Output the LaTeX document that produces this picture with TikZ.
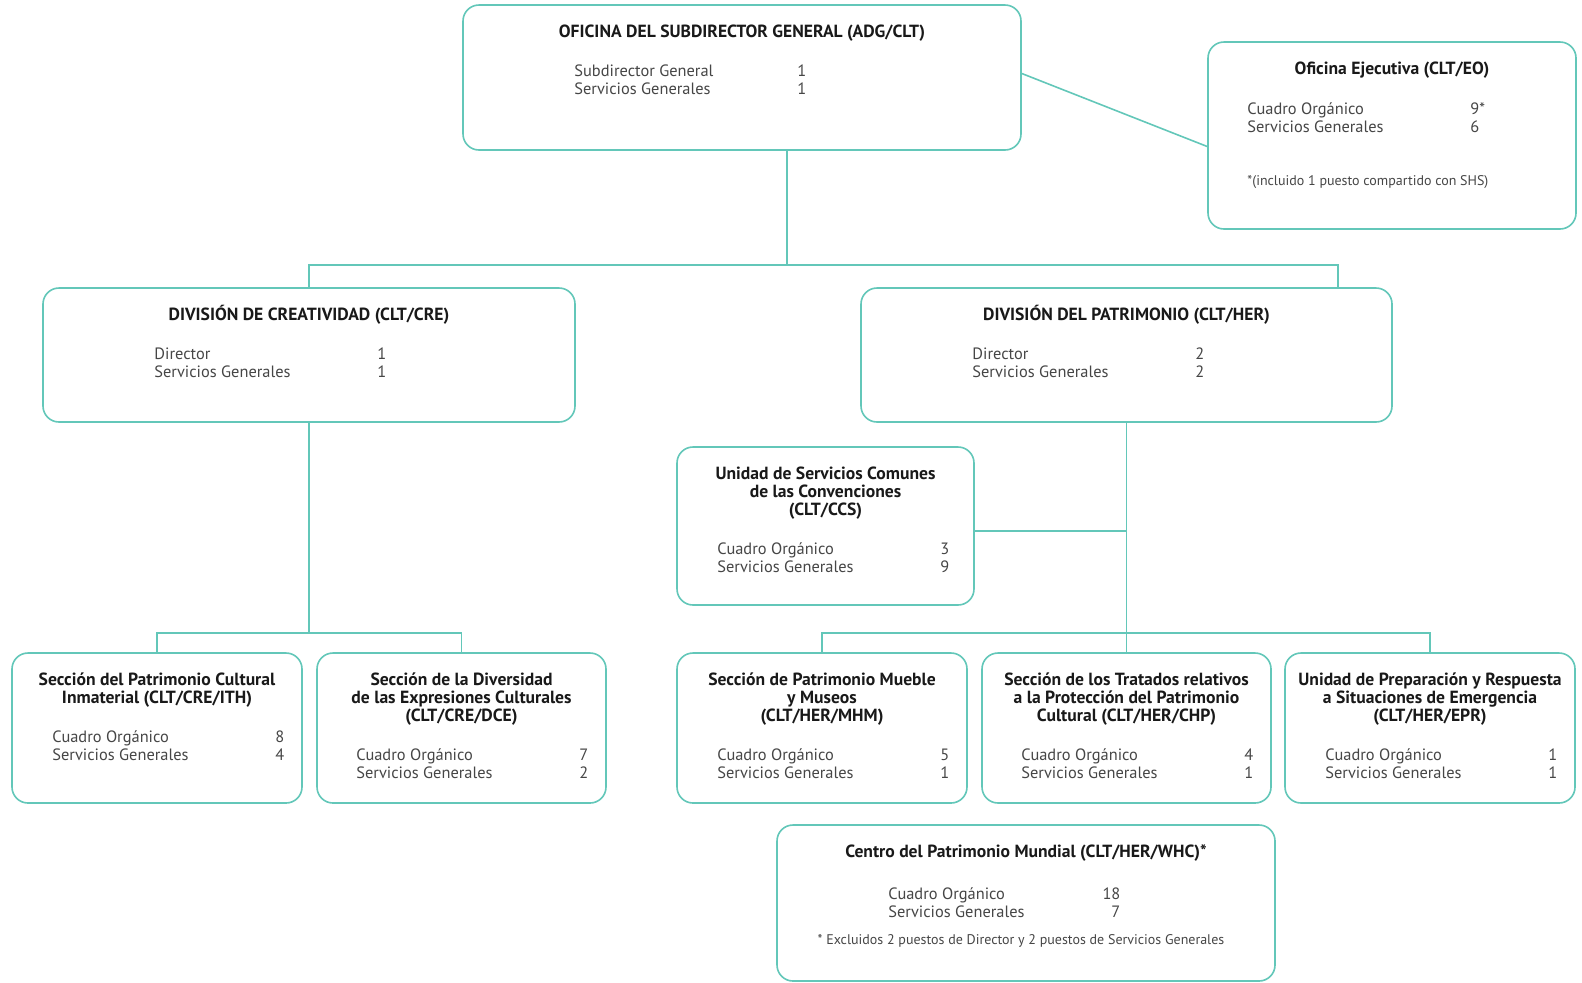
\documentclass[tikz,border=0pt]{standalone}
\usepackage{fontspec}
\setmainfont{PT Sans}
\usetikzlibrary{positioning}
\definecolor{orgline}{RGB}{99,199,185}
\definecolor{orgtext}{RGB}{70,70,70}
\newcommand\tstrut{\rule{0pt}{8pt}}
\newcommand\staffrow[2]{\makebox[116pt][l]{#1\hfill#2}}

\begin{document}
\begin{tikzpicture}[x=0.5pt,y=-0.5pt,
  unit/.style={draw=orgline,line width=0.8pt,rounded corners=8pt,fill=white,inner sep=0pt},
  head/.style={font=\fontsize{8.8}{8.9}\selectfont\bfseries,align=center,inner sep=0pt,text=black!90},
  staff/.style={font=\fontsize{8.2}{9}\selectfont,align=left,inner sep=0pt,anchor=north west,text=orgtext},
  note/.style={font=\fontsize{7}{9}\selectfont,inner sep=0pt,text=orgtext},
  link/.style={draw=orgline,line width=0.8pt}]
\useasboundingbox (0,0) rectangle (1582,982);
% top level
\node[unit,minimum width=279pt,minimum height=72.5pt] (top) at (742,77.5) {};
\node[head,below=8.5pt of top.north] (topT) {\tstrut OFICINA DEL SUBDIRECTOR GENERAL (ADG/CLT)};
\node[staff] (topS) at (574,60) {\tstrut\staffrow{Subdirector General}{1}\\\staffrow{Servicios Generales}{1}};
\node[unit,minimum width=184pt,minimum height=93.5pt] (eo) at (1392,135.5) {};
\node[head,below=8.5pt of eo.north] (eoT) {\tstrut Oficina Ejecutiva (CLT/EO)};
\node[staff] (eoS) at (1247,98) {\tstrut\staffrow{Cuadro Orgánico}{9\rlap{*}}\\\staffrow{Servicios Generales}{6}};
\node[note,anchor=north west] (eoN) at (1247,169) {\tstrut *(incluido 1 puesto compartido con SHS)};
% divisions
\node[unit,minimum width=266pt,minimum height=67pt] (cre) at (309,355) {};
\node[head,below=8.5pt of cre.north] (creT) {\tstrut DIVISIÓN DE CREATIVIDAD (CLT/CRE)};
\node[staff] (creS) at (154,343) {\tstrut\staffrow{Director}{1}\\\staffrow{Servicios Generales}{1}};
\node[unit,minimum width=265.5pt,minimum height=67pt] (her) at (1126.5,355) {};
\node[head,below=8.5pt of her.north] (herT) {\tstrut DIVISIÓN DEL PATRIMONIO (CLT/HER)};
\node[staff] (herS) at (972,343) {\tstrut\staffrow{Director}{2}\\\staffrow{Servicios Generales}{2}};
\node[unit,minimum width=148.5pt,minimum height=79pt] (ccs) at (825.5,526) {};
\node[head,below=8.5pt of ccs.north] (ccsT) {\tstrut Unidad de Servicios Comunes\\de las Convenciones\\(CLT/CCS)};
\node[staff] (ccsS) at (717,538) {\tstrut\staffrow{Cuadro Orgánico}{3}\\\staffrow{Servicios Generales}{9}};
% sections
\node[unit,minimum width=145pt,minimum height=75pt] (ith) at (157,728) {};
\node[head,below=8.5pt of ith.north] (ithT) {\tstrut Sección del Patrimonio Cultural\\Inmaterial (CLT/CRE/ITH)};
\node[staff] (ithS) at (52,726) {\tstrut\staffrow{Cuadro Orgánico}{8}\\\staffrow{Servicios Generales}{4}};
\node[unit,minimum width=144.5pt,minimum height=75pt] (dce) at (461.5,728) {};
\node[head,below=8.5pt of dce.north] (dceT) {\tstrut Sección de la Diversidad\\de las Expresiones Culturales\\(CLT/CRE/DCE)};
\node[staff] (dceS) at (356,744) {\tstrut\staffrow{Cuadro Orgánico}{7}\\\staffrow{Servicios Generales}{2}};
\node[unit,minimum width=145pt,minimum height=75pt] (mhm) at (822,728) {};
\node[head,below=8.5pt of mhm.north] (mhmT) {\tstrut Sección de Patrimonio Mueble\\y Museos\\(CLT/HER/MHM)};
\node[staff] (mhmS) at (717,744) {\tstrut\staffrow{Cuadro Orgánico}{5}\\\staffrow{Servicios Generales}{1}};
\node[unit,minimum width=144.5pt,minimum height=75pt] (chp) at (1126.5,728) {};
\node[head,below=8.5pt of chp.north] (chpT) {\tstrut Sección de los Tratados relativos\\a la Protección del Patrimonio\\Cultural (CLT/HER/CHP)};
\node[staff] (chpS) at (1021,744) {\tstrut\staffrow{Cuadro Orgánico}{4}\\\staffrow{Servicios Generales}{1}};
\node[unit,minimum width=145pt,minimum height=75pt] (epr) at (1430,728) {};
\node[head,below=8.5pt of epr.north] (eprT) {\tstrut Unidad de Preparación y Respuesta\\a Situaciones de Emergencia\\(CLT/HER/EPR)};
\node[staff] (eprS) at (1325,744) {\tstrut\staffrow{Cuadro Orgánico}{1}\\\staffrow{Servicios Generales}{1}};
\node[unit,minimum width=249pt,minimum height=78pt] (whc) at (1026,903) {};
\node[head,below=8.5pt of whc.north] (whcT) {\tstrut Centro del Patrimonio Mundial (CLT/HER/WHC)*};
\node[staff] (whcS) at (888,883) {\tstrut\staffrow{Cuadro Orgánico}{18}\\\staffrow{Servicios Generales}{7}};
\node[note,anchor=north] (whcN) at (1021,928) {\tstrut * Excluidos 2 puestos de Director y 2 puestos de Servicios Generales};
% connectors
\coordinate (topdrop) at (787,150);
\coordinate (hubL) at (309,265);
\coordinate (hubR) at (1338,265);
\draw[link] (topdrop) -- (topdrop |- hubL);
\draw[link] (cre.north) -- (hubL) -- (hubR) -- (hubR |- her.north);
\draw[link] ([yshift=2pt]top.east) -- ([yshift=-5.5pt]eo.west);
\coordinate (creBus) at (309,633);
\draw[link] (cre.south) -- (creBus);
\draw[link] (ith.north) |- (creBus) -| (dce.north);
\coordinate (herBus) at (1126.5,633);
\draw[link] (her.south) -- (chp.north);
\draw[link] (mhm.north) |- (herBus) -| (epr.north);
\draw[link] ([yshift=-2.5pt]ccs.east) -- ([yshift=-2.5pt]ccs.east -| her.south);
\end{tikzpicture}
\end{document}
